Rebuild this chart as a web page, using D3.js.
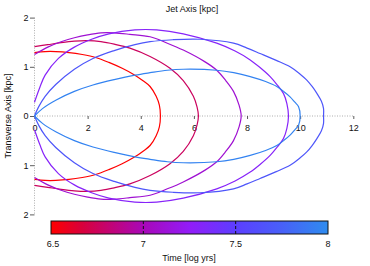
<!DOCTYPE html>
<html>
<head>
<meta charset="utf-8">
<script src="https://cdn.jsdelivr.net/npm/d3@7"></script>
<style>
  body { margin: 0; background: #fff; }
  text { font-family: "Liberation Sans", Arial, sans-serif; fill: #111; }
</style>
</head>
<body>
<svg id="chart"></svg>
<script>
// time (log yrs) of each cocoon outline
const TIMES = [6.5, 6.76, 7.1, 7.3, 7.68, 7.95];

// upper half of each outline, [jet axis kpc, transverse kpc]; lower half is the mirror
const OUTLINE_650 = [[0,1.29],[0.4,1.31],[0.8,1.31],[1.3,1.29],[1.8,1.25],[2.3,1.19],[2.8,1.09],
  [3.3,0.97],[3.78,0.83],[4.1,0.71],[4.35,0.60],[4.58,0.40],[4.7,0.22],[4.74,0]];
const OUTLINE_676 = [[0,1.41],[0.5,1.45],[1,1.49],[1.5,1.52],[2,1.53],[2.5,1.51],[3,1.46],
  [3.59,1.38],[4.35,1.21],[5.1,0.97],[5.6,0.72],[5.98,0.40],[6.12,0.18],[6.17,0]];
const OUTLINE_710 = [[0,1.25],[0.5,1.40],[1,1.51],[1.5,1.59],[2,1.65],[2.5,1.69],[3,1.69],
  [3.59,1.66],[4.35,1.61],[5.0,1.48],[5.6,1.34],[6.42,1.10],[6.86,0.93],[7.2,0.72],[7.49,0.50],
  [7.7,0.22],[7.78,0]];
const OUTLINE_730 = [[0,0.28],[0.2,0.58],[0.4,0.83],[0.9,1.17],[1.5,1.40],[2.15,1.56],[2.8,1.67],
  [3.78,1.75],[4.6,1.75],[5.6,1.67],[6.86,1.48],[7.55,1.32],[8.12,1.14],[8.5,0.98],[8.87,0.80],
  [9.15,0.62],[9.37,0.46],[9.5,0.25],[9.56,0]];
const OUTLINE_768 = [[0,0],[0.15,0.18],[0.4,0.40],[0.8,0.64],[1.5,0.95],[2.2,1.17],[3,1.33],
  [3.78,1.45],[4.35,1.51],[5.2,1.55],[6.23,1.56],[7.49,1.48],[8.0,1.38],[8.49,1.27],[9.1,1.13],
  [9.62,1.0],[10.0,0.85],[10.25,0.73],[10.45,0.60],[10.63,0.46],[10.8,0.30],[10.88,0.15],[10.88,0]];
const OUTLINE_795 = [[0,0],[0.3,0.15],[0.8,0.32],[1.5,0.50],[2.2,0.63],[3,0.74],[3.78,0.83],
  [4.35,0.88],[5.0,0.93],[5.6,0.95],[6.86,0.93],[7.5,0.88],[8.12,0.80],[8.7,0.70],[9.12,0.60],
  [9.4,0.49],[9.62,0.39],[9.8,0.28],[9.94,0.19],[10,0]];
const OUTLINES = [OUTLINE_650, OUTLINE_676, OUTLINE_710, OUTLINE_730, OUTLINE_768, OUTLINE_795];

const X_TICKS = [0, 2, 4, 6, 8, 10, 12];
const Y_TICKS = [-2, -1, 0, 1, 2];
const CBAR_TICKS = [6.5, 7, 7.5, 8];

// colour map along the time bar
const CMAP_T = [6.5, 6.67, 7.0, 7.25, 7.5, 7.75, 8.0];
const CMAP_C = ["#ff0000", "#d8003c", "#a808b8", "#921cf8", "#5c3eff", "#4860f8", "#2e8cef"];

const W = 370, H = 266;

const svg = d3.select("#chart").attr("width", W).attr("height", H);

const x = d3.scaleLinear().domain([0, 12]).range([34.5, 353.3]);
const y = d3.scaleLinear().domain([-2, 2]).range([214.4, 17.6]);
const tColor = d3.scaleLinear().domain(CMAP_T).range(CMAP_C).interpolate(d3.interpolateRgb);

// dotted reference lines
svg.append("line")
  .attr("x1", x(0)).attr("x2", x(0)).attr("y1", y(2)).attr("y2", y(-2))
  .attr("stroke", "#999").attr("stroke-width", 0.8).attr("stroke-dasharray", "1,1.5");
svg.append("line")
  .attr("x1", x(0)).attr("x2", x(12)).attr("y1", y(0)).attr("y2", y(0))
  .attr("stroke", "#999").attr("stroke-width", 0.8).attr("stroke-dasharray", "1,1.5");

const gx = svg.append("g").attr("transform", "translate(0," + y(0) + ")")
  .call(d3.axisBottom(x).tickValues(X_TICKS).tickSize(3).tickPadding(6).tickFormat(d3.format("d")));
gx.select(".domain").remove();

const gy = svg.append("g").attr("transform", "translate(" + x(0) + ",0)")
  .call(d3.axisLeft(y).tickValues(Y_TICKS).tickSize(4.5).tickPadding(1.5).tickFormat(d => Math.abs(d)));
gy.select(".domain").remove();

svg.selectAll(".tick line").attr("stroke", "#333").attr("stroke-width", 0.8);
svg.selectAll(".tick text").attr("font-size", 9).attr("fill", "#111")
  .attr("font-family", "Liberation Sans, Arial, sans-serif");

// outlines
const line = d3.line().x(d => x(d[0])).y(d => y(d[1])).curve(d3.curveCatmullRom);
const gCurves = svg.append("g");
OUTLINES.forEach(function (pts, i) {
  const full = pts.concat(pts.slice(0, -1).reverse().map(p => [p[0], -p[1]]));
  gCurves.append("path")
    .attr("d", line(full))
    .attr("fill", "none")
    .attr("stroke", tColor(TIMES[i]))
    .attr("stroke-width", 1.2);
});

// titles
svg.append("text").attr("x", 192).attr("y", 12).attr("text-anchor", "middle")
  .attr("font-size", 9).text("Jet Axis [kpc]");
svg.append("text").attr("transform", "translate(10.5," + y(0) + ") rotate(-90)")
  .attr("text-anchor", "middle").attr("font-size", 9).text("Transverse Axis [kpc]");

// colour bar
const cb = d3.scaleLinear().domain([6.5, 8]).range([51, 328]);
const grad = svg.append("defs").append("linearGradient").attr("id", "tgrad");
CMAP_T.forEach(function (t, i) {
  grad.append("stop")
    .attr("offset", ((t - 6.5) / 1.5 * 100) + "%")
    .attr("stop-color", CMAP_C[i]);
});
svg.append("rect")
  .attr("x", cb(6.5)).attr("y", 221).attr("width", cb(8) - cb(6.5)).attr("height", 13)
  .attr("fill", "url(#tgrad)").attr("stroke", "#111").attr("stroke-width", 1);
svg.selectAll("line.cbtick").data(CBAR_TICKS.slice(1, -1)).join("line")
  .attr("class", "cbtick")
  .attr("x1", d => cb(d)).attr("x2", d => cb(d)).attr("y1", 221).attr("y2", 234)
  .attr("stroke", "#111").attr("stroke-width", 1).attr("stroke-dasharray", "3,2");
svg.selectAll("text.cblab").data(CBAR_TICKS).join("text")
  .attr("class", "cblab")
  .attr("x", d => cb(d) + (d === 6.5 ? 2 : 0)).attr("y", 246.5)
  .attr("text-anchor", "middle").attr("font-size", 9).text(d => d);
svg.append("text").attr("x", 189).attr("y", 261).attr("text-anchor", "middle")
  .attr("font-size", 9).text("Time [log yrs]");
</script>
</body>
</html>
